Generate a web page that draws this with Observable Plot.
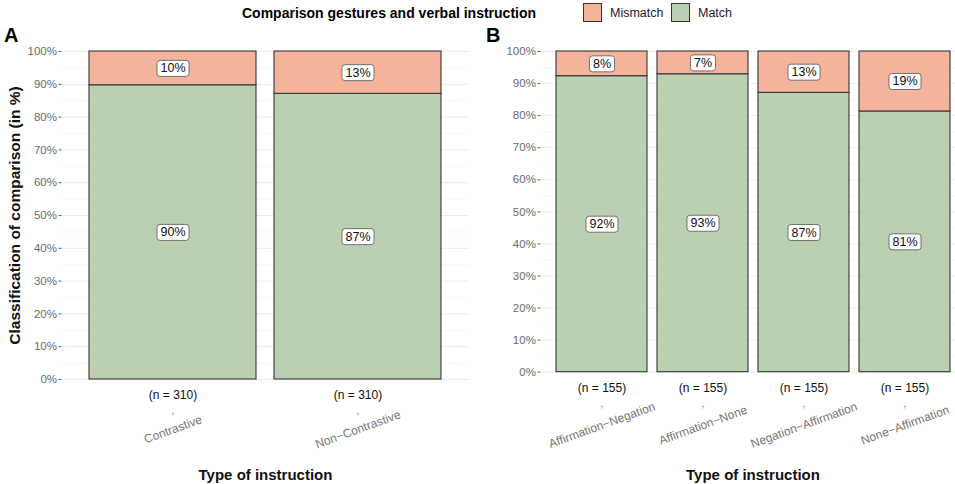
<!DOCTYPE html>
<html><head><meta charset="utf-8">
<script src="https://cdn.jsdelivr.net/npm/d3@7"></script>
<script src="https://cdn.jsdelivr.net/npm/@observablehq/plot@0.6"></script>
<style>
body{margin:0;background:#fff;font-family:"Liberation Sans",Arial,sans-serif}
#wrap{position:relative;width:955px;height:484px;overflow:hidden;background:#fff}
.abs{position:absolute;white-space:nowrap}
.letter{font-weight:bold;font-size:20px;line-height:20px}
.key{width:19px;height:19px;border:1px solid #333;box-sizing:border-box}
#pA,#pB{position:absolute;top:26px}
#pA{left:0;width:478px}
#pB{left:478px;width:492px}
#pA svg,#pB svg{max-width:none !important}
</style></head><body>
<div id="wrap">
  <div class="abs" style="left:242px;top:5px;font-weight:bold;font-size:14px;line-height:16px">Comparison gestures and verbal instruction</div>
  <div class="abs key" style="left:583px;top:3px;background:#F3B49B"></div>
  <div class="abs" style="left:610px;top:6px;font-size:12.5px;line-height:14px;color:#222">Mismatch</div>
  <div class="abs key" style="left:671px;top:3px;background:#BBCFB2"></div>
  <div class="abs" style="left:698px;top:6px;font-size:12.5px;line-height:14px;color:#222">Match</div>
  <div class="abs letter" style="left:4px;top:25px">A</div>
  <div class="abs letter" style="left:486px;top:25px">B</div>
  <div id="pA"></div>
  <div id="pB"></div>
</div>
<script>
const categoriesA = ["Contrastive", "Non\u2212Contrastive"];
const nA = [310, 310];
const matchA = [89.7, 87.1];
const mismatchA = [10.3, 12.9];

const categoriesB = ["Affirmation\u2212Negation", "Affirmation\u2212None", "Negation\u2212Affirmation", "None\u2212Affirmation"];
const nB = [155, 155, 155, 155];
const matchB = [92.3, 92.9, 87.1, 81.3];
const mismatchB = [7.7, 7.1, 12.9, 18.7];

const types = ["Mismatch", "Match"];
const typeColors = ["#F3B49B", "#BBCFB2"];
const yTicks = d3.range(0, 101, 10);
const yMinor = d3.range(5, 100, 10);
const yTitle = "Classification of comparison (in %)";
const xTitle = "Type of instruction";
const LABEL_FILL = "#101010";

function panel(cats, ns, match, mismatch, o) {
  const rows = cats.flatMap((c, i) => [
    {cat: c, type: "Match", v: match[i]},
    {cat: c, type: "Mismatch", v: mismatch[i]}
  ]);
  const marks = [
    Plot.gridY(yMinor, {stroke: "#f4f4f4", strokeOpacity: 1, strokeWidth: 0.7}),
    Plot.gridY(yTicks, {stroke: "#ececec", strokeOpacity: 1, strokeWidth: 1}),
    Plot.axisY({ticks: yTicks, tickFormat: d => d + "%", tickSize: 3, tickPadding: 2, fontSize: 11.5, color: "#6b6b6b", label: null}),
    Plot.barY(rows, Plot.stackY({x: "cat", y: "v", z: "type", fill: "type", stroke: "#363636", strokeWidth: 1.1})),
    Plot.text(rows, Plot.stackY({x: "cat", y: "v", z: "type", text: d => Math.round(d.v) + "%", fontSize: 12.5, fill: LABEL_FILL})),
    Plot.text(cats, {x: d => d, text: (d, i) => `(n = ${ns[i]})`, frameAnchor: "bottom", lineAnchor: "middle", dy: 16, fontSize: 12, fill: "#111"}),
    Plot.text(cats, {x: d => d, text: () => ",", frameAnchor: "bottom", lineAnchor: "middle", dy: o.commaDy, fontSize: 10, fill: "#777"}),
    Plot.text(cats, {x: d => d, text: d => d, frameAnchor: "bottom", lineAnchor: "middle", dy: o.labDy, rotate: -20, fontSize: 12, fill: "#777"}),
    Plot.text([xTitle], {frameAnchor: "bottom", lineAnchor: "middle", dy: o.titleDy, fontSize: 15, fontWeight: "bold", fill: "#111"})
  ];
  if (o.yTitle) marks.push(Plot.text([yTitle], {frameAnchor: "left", textAnchor: "middle", lineAnchor: "middle", dx: o.yTitleDx, rotate: -90, fontSize: 15.5, fontWeight: "bold", fill: "#111"}));
  return Plot.plot({
    width: o.width, height: 458,
    marginTop: 25, marginBottom: o.marginBottom, marginLeft: o.marginLeft, marginRight: o.marginRight,
    x: {domain: cats, paddingInner: 0.1, paddingOuter: 0.15, axis: null},
    y: {domain: [0, 100], axis: null},
    color: {domain: types, range: typeColors},
    style: {fontFamily: "'Liberation Sans', Arial, sans-serif", overflow: "visible", background: "transparent", maxWidth: "none"},
    marks
  });
}

function boxLabels(svg) {
  svg.querySelectorAll("g").forEach(g => {
    if ((g.getAttribute("fill") || "").toLowerCase() !== LABEL_FILL) return;
    g.querySelectorAll("text").forEach(t => {
      const b = t.getBBox();
      const r = document.createElementNS("http://www.w3.org/2000/svg", "rect");
      r.setAttribute("x", b.x - 3.5);
      r.setAttribute("y", b.y - 1);
      r.setAttribute("width", b.width + 7);
      r.setAttribute("height", b.height + 2);
      r.setAttribute("rx", 3);
      r.setAttribute("fill", "#fff");
      r.setAttribute("stroke", "#555");
      r.setAttribute("stroke-width", 0.8);
      const tr = t.getAttribute("transform");
      if (tr) r.setAttribute("transform", tr);
      t.parentNode.insertBefore(r, t);
    });
  });
}

const A = panel(categoriesA, nA, matchA, mismatchA, {
  width: 478, marginLeft: 61.5, marginRight: 9.5, marginBottom: 105,
  commaDy: 31, labDy: 50, titleDy: 96, yTitle: true, yTitleDx: -47
});
document.getElementById("pA").appendChild(A);
boxLabels(A);

const B = panel(categoriesB, nB, matchB, mismatchB, {
  width: 492, marginLeft: 62.4, marginRight: 5.4, marginBottom: 112.3,
  commaDy: 32, labDy: 53, titleDy: 103, yTitle: false
});
document.getElementById("pB").appendChild(B);
boxLabels(B);
</script>
</body></html>
